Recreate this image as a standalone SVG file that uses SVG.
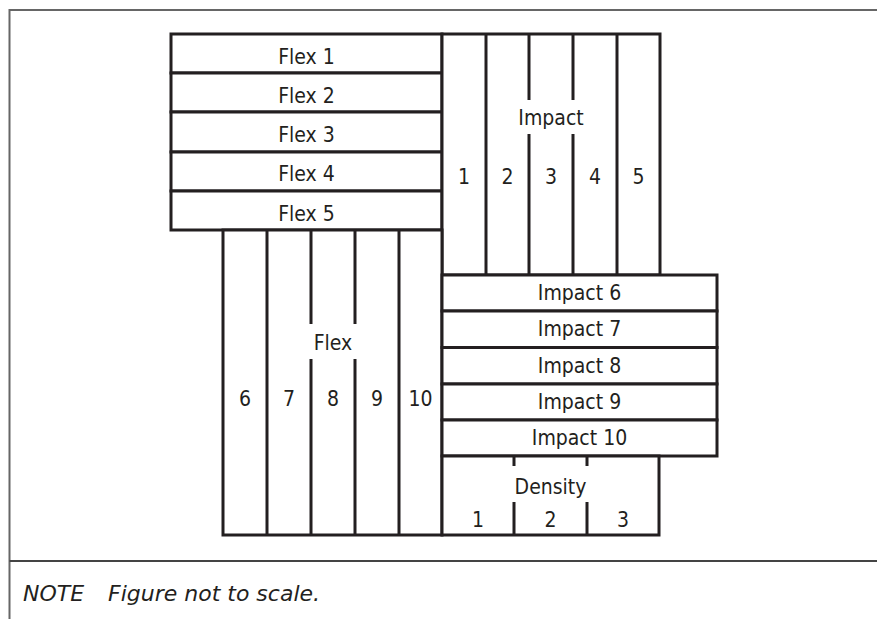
<svg xmlns="http://www.w3.org/2000/svg" width="877" height="619" viewBox="0 0 877 619">
<style>
.frame{stroke:#666;stroke-width:2;fill:none}
.sep{stroke:#444;stroke-width:2;fill:none}
.box{fill:#fff;stroke:#231f20;stroke-width:3}
.ln{stroke:#231f20;stroke-width:3;fill:none}
.lbl{font-family:"DejaVu Sans Condensed","DejaVu Sans",sans-serif;font-stretch:condensed;font-size:21px;fill:#231f20;text-anchor:middle}
.note{font-family:"DejaVu Sans",sans-serif;font-style:italic;font-size:22px;fill:#231f20}
</style>
<rect width="877" height="619" fill="#fff"/>
<g id="frame">
<path class="frame" d="M9.5 619V10H877"/>
<path class="sep" d="M9.5 561H877"/>
</g>
<g id="flex-rows">
<g id="flex1"><rect class="box" x="171" y="34" width="271" height="39"/><text class="lbl" x="306.5" y="64">Flex 1</text></g>
<g id="flex2"><rect class="box" x="171" y="73" width="271" height="39"/><text class="lbl" x="306.5" y="103">Flex 2</text></g>
<g id="flex3"><rect class="box" x="171" y="112" width="271" height="40"/><text class="lbl" x="306.5" y="142">Flex 3</text></g>
<g id="flex4"><rect class="box" x="171" y="152" width="271" height="39"/><text class="lbl" x="306.5" y="181">Flex 4</text></g>
<g id="flex5"><rect class="box" x="171" y="191" width="271" height="39"/><text class="lbl" x="306.5" y="221">Flex 5</text></g>
</g>
<g id="impact-cols">
<rect class="box" x="442" y="34" width="218" height="241"/>
<g id="impact1"><text class="lbl" x="464" y="184">1</text></g>
<g id="impact2"><path class="ln" d="M486 34V275"/><text class="lbl" x="507.5" y="184">2</text></g>
<g id="impact3"><path class="ln" d="M529 34V100M529 134V275"/><text class="lbl" x="551" y="184">3</text></g>
<g id="impact4"><path class="ln" d="M573 34V100M573 134V275"/><text class="lbl" x="595" y="184">4</text></g>
<g id="impact5"><path class="ln" d="M617 34V275"/><text class="lbl" x="638.5" y="184">5</text></g>
<text class="lbl" x="551" y="125">Impact</text>
</g>
<g id="flex-cols">
<rect class="box" x="223" y="230" width="219" height="305"/>
<g id="flex6"><text class="lbl" x="245" y="406">6</text></g>
<g id="flex7"><path class="ln" d="M267 230V535"/><text class="lbl" x="289" y="406">7</text></g>
<g id="flex8"><path class="ln" d="M311 230V324M311 359V535"/><text class="lbl" x="333" y="406">8</text></g>
<g id="flex9"><path class="ln" d="M355 230V324M355 359V535"/><text class="lbl" x="377" y="406">9</text></g>
<g id="flex10"><path class="ln" d="M399 230V535"/><text class="lbl" x="420.5" y="406">10</text></g>
<text class="lbl" x="333" y="350">Flex</text>
</g>
<g id="impact-rows">
<g id="impact6"><rect class="box" x="442" y="275" width="275" height="36"/><text class="lbl" x="579.5" y="300">Impact 6</text></g>
<g id="impact7"><rect class="box" x="442" y="311" width="275" height="36.5"/><text class="lbl" x="579.5" y="336">Impact 7</text></g>
<g id="impact8"><rect class="box" x="442" y="347.5" width="275" height="36.5"/><text class="lbl" x="579.5" y="373">Impact 8</text></g>
<g id="impact9"><rect class="box" x="442" y="384" width="275" height="36"/><text class="lbl" x="579.5" y="409">Impact 9</text></g>
<g id="impact10"><rect class="box" x="442" y="420" width="275" height="36"/><text class="lbl" x="579.5" y="445">Impact 10</text></g>
</g>
<g id="density">
<rect class="box" x="442" y="456" width="217" height="79"/>
<g id="density1"><text class="lbl" x="478" y="527">1</text></g>
<g id="density2"><path class="ln" d="M514 456V466M514 502V535"/><text class="lbl" x="550.5" y="527">2</text></g>
<g id="density3"><path class="ln" d="M587 456V466M587 502V535"/><text class="lbl" x="623" y="527">3</text></g>
<text class="lbl" x="550.5" y="494">Density</text>
</g>
<g id="note">
<text class="note" x="23" y="601">NOTE</text>
<text class="note" x="108" y="601">Figure not to scale.</text>
</g>
</svg>
